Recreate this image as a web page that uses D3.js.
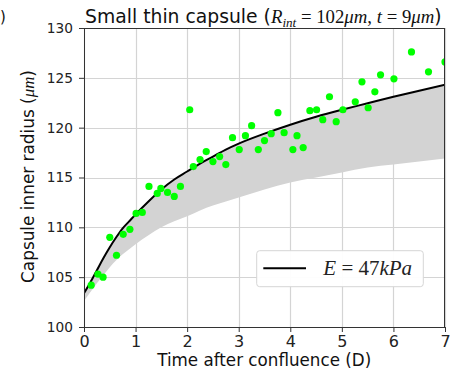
<!DOCTYPE html>
<html>
<head>
<meta charset="utf-8">
<script src="https://cdn.jsdelivr.net/npm/d3@7"></script>
<style>
  html, body { margin: 0; padding: 0; background: #fff; }
  svg { display: block; }
  text { white-space: pre; }
</style>
</head>
<body>
<svg id="chart" width="457" height="371"></svg>
<script>
// ---- data ----
const days = [0.14,0.27,0.37,0.50,0.63,0.76,0.89,1.01,1.13,1.26,1.42,1.49,1.62,1.75,1.87,2.05,2.12,2.25,2.37,2.50,2.63,2.75,2.88,3.01,3.13,3.25,3.38,3.50,3.63,3.76,3.88,4.05,4.13,4.25,4.38,4.51,4.63,4.76,4.89,5.02,5.26,5.39,5.51,5.64,5.75,6.01,6.35,6.68,7.00];
const radius = [104.2,105.3,105.0,109.0,107.2,109.3,109.8,111.4,111.5,114.1,113.4,113.9,113.5,113.1,114.1,121.8,116.1,116.8,117.6,116.6,117.1,116.3,119.0,117.8,119.2,120.2,117.8,118.7,119.4,121.5,119.5,117.8,119.2,118.0,121.7,121.8,120.8,123.1,120.6,121.8,122.6,124.6,122.0,123.6,125.3,124.9,127.6,125.6,126.6];

const fitDays  = [0,0.125,0.25,0.375,0.5,0.625,0.75,0.875,1,1.25,1.5,1.75,2,2.25,2.5,2.75,3,3.5,4,4.5,5,5.5,6,6.5,7];
const fitUpper = [103.4,104.5,105.7,106.9,108.0,109.0,109.9,110.6,111.3,112.6,113.8,114.8,115.6,116.4,117.1,117.8,118.4,119.4,120.3,121.1,121.8,122.45,123.1,123.7,124.3];
const bandLower = [102.6,103.5,104.4,105.2,106.0,106.7,107.3,107.8,108.3,109.2,110.0,110.6,111.1,111.7,112.2,112.6,113.0,113.8,114.5,115.0,115.5,116.0,116.3,116.6,116.9];

const xTicks = [0,1,2,3,4,5,6,7];
const yTicks = [100,105,110,115,120,125,130];
const legendLabel = "E = 47kPa";

// ---- layout ----
const pL = 84, pR = 445, pT = 28, pB = 327;
const sans = "'DejaVu Sans', sans-serif";
const serif = "'Liberation Serif', 'DejaVu Serif', serif";

const svg = d3.select("#chart");
const x = d3.scaleLinear().domain([0, 7]).range([pL, pR]);
const y = d3.scaleLinear().domain([100, 130]).range([pB, pT]);

svg.append("defs").append("clipPath").attr("id", "plotclip")
  .append("rect").attr("x", pL).attr("y", pT).attr("width", pR - pL).attr("height", pB - pT);

// grid
const grid = svg.append("g");
grid.selectAll(".gx").data(xTicks).join("line")
  .attr("x1", d => Math.round(x(d)) + 0.5).attr("x2", d => Math.round(x(d)) + 0.5)
  .attr("y1", pT).attr("y2", pB)
  .attr("stroke", "#d4d4d4").attr("stroke-width", 1.2);
grid.selectAll(".gy").data(yTicks).join("line")
  .attr("y1", d => Math.round(y(d)) + 0.5).attr("y2", d => Math.round(y(d)) + 0.5)
  .attr("x1", pL).attr("x2", pR)
  .attr("stroke", "#d4d4d4").attr("stroke-width", 1.2);

const plot = svg.append("g").attr("clip-path", "url(#plotclip)");

// band
const bandData = fitDays.map((d, i) => ({ t: d, lo: bandLower[i], hi: fitUpper[i] }));
plot.append("path").datum(bandData)
  .attr("d", d3.area().x(d => x(d.t)).y0(d => y(d.lo)).y1(d => y(d.hi)).curve(d3.curveMonotoneX))
  .attr("fill", "#d3d3d3");

// fit line
const lineData = fitDays.map((d, i) => ({ t: d, v: fitUpper[i] }));
plot.append("path").datum(lineData)
  .attr("d", d3.line().x(d => x(d.t)).y(d => y(d.v)).curve(d3.curveMonotoneX))
  .attr("fill", "none").attr("stroke", "#000").attr("stroke-width", 2);

// points
plot.selectAll("circle").data(days.map((d, i) => ({ t: d, v: radius[i] }))).join("circle")
  .attr("cx", d => x(d.t)).attr("cy", d => y(d.v)).attr("r", 3.6)
  .attr("fill", "#00ff00");

// axes
const xAxis = svg.append("g").attr("transform", `translate(0,${pB})`)
  .call(d3.axisBottom(x).tickValues(xTicks).tickSize(5).tickPadding(4).tickFormat(d3.format("d")));
const yAxis = svg.append("g").attr("transform", `translate(${pL},0)`)
  .call(d3.axisLeft(y).tickValues(yTicks).tickSize(5).tickPadding(6).tickFormat(d3.format("d")));
[xAxis, yAxis].forEach(a => {
  a.select(".domain").remove();
  a.selectAll(".tick line").attr("stroke", "#333").attr("stroke-width", 1);
  a.selectAll("text").attr("fill", "#222").attr("font-family", sans);
});
xAxis.selectAll("text").attr("font-size", 16);
yAxis.selectAll("text").attr("font-size", 13.7);

// spines
svg.append("rect").attr("x", pL + 0.5).attr("y", pT + 0.5)
  .attr("width", pR - pL - 1).attr("height", pB - pT)
  .attr("fill", "none").attr("stroke", "#333").attr("stroke-width", 1);

function fitWidth(sel, target) {
  const w = sel.node().getBBox().width;
  const fs = parseFloat(sel.attr("font-size"));
  sel.attr("font-size", fs * target / w);
}

// title
const title = svg.append("text").attr("x", (85 + 441.7) / 2).attr("y", 22.5)
  .attr("text-anchor", "middle").attr("font-size", 17).attr("fill", "#111");
title.append("tspan").attr("font-family", sans).text("Small thin capsule (");
title.append("tspan").attr("font-family", serif).attr("font-style", "italic").text("R");
title.append("tspan").attr("font-family", serif).attr("font-style", "italic").attr("font-size", "0.7em").attr("dy", 4).text("int");
title.append("tspan").attr("font-family", serif).attr("dy", -4).text(" = 102");
title.append("tspan").attr("font-family", serif).attr("font-style", "italic").text("μm");
title.append("tspan").attr("font-family", serif).text(", ");
title.append("tspan").attr("font-family", serif).attr("font-style", "italic").text("t");
title.append("tspan").attr("font-family", serif).text(" = 9");
title.append("tspan").attr("font-family", serif).attr("font-style", "italic").text("μm");
title.append("tspan").attr("font-family", sans).text(")");
fitWidth(title, 356.7);

// x label
const xl = svg.append("text").attr("x", 264.2).attr("y", 365.5).attr("text-anchor", "middle")
  .attr("font-family", sans).attr("font-size", 16.7).attr("fill", "#111")
  .text("Time after confluence (D)");
fitWidth(xl, 215);

// y label
const yl = svg.append("text").attr("transform", "translate(33.5,176.5) rotate(-90)")
  .attr("text-anchor", "middle").attr("font-size", 16.7).attr("fill", "#111");
yl.append("tspan").attr("font-family", sans).text("Capsule inner radius (");
yl.append("tspan").attr("font-family", serif).attr("font-style", "italic").text("μm");
yl.append("tspan").attr("font-family", sans).text(")");
fitWidth(yl, 213);

// panel label fragment at far left
svg.append("text").attr("x", 0).attr("y", 21.5).attr("font-family", sans).attr("font-size", 15)
  .attr("fill", "#111").text(")");

// legend
const lg = svg.append("g");
lg.append("rect").attr("x", 256.7).attr("y", 250.7).attr("width", 166.6).attr("height", 36)
  .attr("rx", 3).attr("fill", "#fff").attr("fill-opacity", 0.95).attr("stroke", "#d6d6d6");
lg.append("line").attr("x1", 263.3).attr("x2", 306).attr("y1", 268.3).attr("y2", 268.3)
  .attr("stroke", "#000").attr("stroke-width", 2);
const lt = lg.append("text").attr("x", 323.3).attr("y", 275).attr("font-size", 19).attr("fill", "#222")
  .attr("font-family", serif);
const parts = legendLabel.split(" "); // ["E", "=", "47kPa"]
lt.append("tspan").attr("font-style", "italic").text(parts[0]);
lt.append("tspan").text(" " + parts[1] + " ");
lt.append("tspan").text(parts[2].slice(0, 2));
lt.append("tspan").attr("font-style", "italic").text(parts[2].slice(2));
fitWidth(lt, 90);
</script>
</body>
</html>
